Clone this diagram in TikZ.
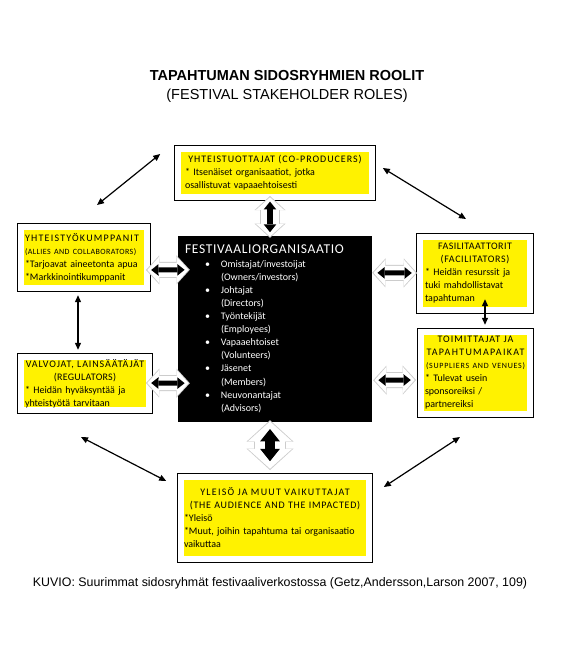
\documentclass[tikz,border=0pt]{standalone}
\usepackage{fontspec}
\setmainfont{Liberation Sans}
\newfontfamily\boxfont{Carlito}
\usetikzlibrary{arrows.meta,calc}

\newcommand{\orgitem}[2]{\hspace*{20pt}\makebox[16pt][l]{\textbullet}#1\par\hspace*{36pt}#2\par}
\newcommand{\hd}[2]{\mbox{\addfontfeature{LetterSpace=#1}#2}}

% white block arrow with a black arrow inside
\newcommand{\blockarrow}[4]{%
  \pgfmathsetlengthmacro{\bshw}{#3}\pgfmathsetlengthmacro{\bhdw}{#4}%
  \pgfmathsetlengthmacro{\bshwo}{#3+2}\pgfmathsetlengthmacro{\bhdwo}{#4+3}%
  \pgfmathsetlengthmacro{\bhdl}{0.45*#4}\pgfmathsetlengthmacro{\bhdlo}{0.45*#4+1.6}%
  \pgfmathsetlengthmacro{\bcsh}{0.35*#3}\pgfmathsetlengthmacro{\bchw}{0.45*#4}%
  \pgfmathsetlengthmacro{\bchl}{0.28*#4}\pgfmathsetlengthmacro{\bcsht}{0.2*#4}%
  \draw[gray!40, line width=\bshwo,
    {Triangle[width=\bhdwo,length=\bhdlo,line width=0pt]}-{Triangle[width=\bhdwo,length=\bhdlo,line width=0pt]}] #1 -- #2;
  \draw[white, line width=\bshw, shorten <=1.3pt, shorten >=1.3pt,
    {Triangle[width=\bhdw,length=\bhdl,line width=0pt]}-{Triangle[width=\bhdw,length=\bhdl,line width=0pt]}] #1 -- #2;
  \draw[black, line width=\bcsh, shorten <=\bcsht, shorten >=\bcsht,
    {Triangle[width=\bchw,length=\bchl,line width=0pt]}-{Triangle[width=\bchw,length=\bchl,line width=0pt]}] #1 -- #2;
}

\tikzset{
  role/.style={font=\boxfont\fontsize{10}{13}\selectfont, fill=yellow, draw=white, line width=6pt,
    preaction={draw=black, line width=7.6pt}, inner ysep=2pt},
  org/.style={font=\boxfont\fontsize{10}{13.1}\selectfont, fill=black, draw=black, text=white,
    inner xsep=7pt, inner ysep=0pt},
  link/.style={line width=1.2pt, {Triangle[length=7pt,width=6pt]}-{Triangle[length=7pt,width=6pt]}},
}

\begin{document}
\begin{tikzpicture}[x=1pt,y=-1pt]
  \fill[white] (0,0) rectangle (580,664);
  \useasboundingbox (0,0) rectangle (580,664);

  \node[font=\bfseries\fontsize{14.5}{16}\selectfont] (title) at (287,76) {TAPAHTUMAN SIDOSRYHMIEN ROOLIT};
  \node[font=\fontsize{14.5}{16}\selectfont] (subtitle) at (287,96) {(FESTIVAL STAKEHOLDER ROLES)};

  \node[role, text width=180pt, inner xsep=7pt, minimum height=48.4pt] (co) at (275,173)
    {{\centering \hd{9.5}{YHTEISTUOTTAJAT (CO-PRODUCERS)}\par}\raggedright
     * Itsenäiset organisaatiot, jotka\\osallistuvat vapaaehtoisesti\par};
  \node[role, text width=118pt, inner xsep=4.2pt, minimum height=61.4pt] (al) at (84,257.5)
    {\raggedright \hd{12.3}{YHTEISTYÖKUMPPANIT}\\{\fontsize{8}{13}\selectfont\hd{5}{(ALLIES AND COLLABORATORS)}}\\{}*Tarjoavat aineetonta apua\\{}*Markkinointikumppanit\par\vspace*{4pt}};
  \node[role, text width=120pt, inner xsep=4.2pt, minimum height=53.4pt] (reg) at (85,383.5)
    {{\centering \hd{9}{VALVOJAT, LAINSÄÄTÄJÄT}\\\hd{2.7}{(REGULATORS)}\par}\raggedright
     * Heidän hyväksyntää ja\\yhteistyötä tarvitaan\par\vspace*{-6pt}};
  \node[role, text width=100pt, inner xsep=5.2pt, minimum height=73.4pt] (fa) at (475,273.5)
    {{\centering \hd{4.5}{FASILITAATTORIT}\\\hd{6.3}{(FACILITATORS)}\par}\raggedright
     * Heidän resurssit ja\\tuki mahdollistavat\\tapahtuman\par};
  \node[role, text width=101pt, inner xsep=4.2pt, minimum height=82.4pt] (su) at (475.5,373)
    {{\centering \hd{10}{TOIMITTAJAT JA}\\\hd{13}{TAPAHTUMAPAIKAT}\\{\fontsize{8}{13}\selectfont\hd{9}{(SUPPLIERS AND VENUES)}}\par}\raggedright
     * Tulevat usein\\sponsoreiksi /\\partnereiksi\par};
  \node[role, text width=182pt, inner xsep=3pt, minimum height=82.4pt] (au) at (275,518)
    {{\centering \hd{12.5}{YLEISÖ JA MUUT VAIKUTTAJAT}\\\hd{7.2}{(THE AUDIENCE AND THE IMPACTED)}\par}\raggedright
     *Yleisö\\{}*Muut, joihin tapahtuma tai organisaatio\\vaikuttaa\par\vspace*{21pt}};

  \node[org, text width=179pt, minimum height=185pt] (org) at (274.5,328.5)
    {{\fontsize{13.5}{16}\selectfont \hd{5}{FESTIVAALIORGANISAATIO}\par}\vspace{1pt}
     \orgitem{Omistajat/investoijat}{(Owners/investors)}
     \orgitem{Johtajat}{(Directors)}
     \orgitem{Työntekijät}{(Employees)}
     \orgitem{Vapaaehtoiset}{(Volunteers)}
     \orgitem{Jäsenet}{(Members)}
     \orgitem{Neuvonantajat}{(Advisors)}};

  \node[font=\fontsize{12.4}{14}\selectfont] (caption) at (280,583)
    {KUVIO: Suurimmat sidosryhmät festivaaliverkostossa (Getz,Andersson,Larson 2007, 109)};

  \blockarrow{([shift={(-5,-4.2)}]co.south)}{([shift={(-4.5,2)}]org.north)}{18}{28}
  \blockarrow{([shift={(-4.5,-1)}]org.south)}{([shift={(-5,-3.8)}]au.north)}{30}{44}
  \blockarrow{([shift={(-4.2,12.5)}]al.east)}{([shift={(12,34)}]org.north west)}{14}{26}
  \blockarrow{([shift={(-6.2,-0.5)}]reg.east)}{([shift={(12,-38)}]org.south west)}{14}{26}
  \blockarrow{([shift={(1,37)}]org.north east)}{([shift={(0.2,-0.5)}]fa.west)}{14}{26}
  \blockarrow{([shift={(2,-41)}]org.south east)}{([shift={(-1.8,7)}]su.west)}{14}{26}

  \draw[link] ([shift={(-6,4)}]al.south) -- ([shift={(-7,-4)}]reg.north);
  \draw[link] ([shift={(10,-14)}]fa.south) -- ([shift={(9.5,-4)}]su.north);
  \draw[link] ([shift={(-14.8,-19)}]co.west) -- ([shift={(13,-18.8)}]al.north);
  \draw[link] ([shift={(7.8,-5)}]co.east) -- ([shift={(-9,-14.8)}]fa.north);
  \draw[link] ([shift={(-4,23.8)}]reg.south) -- ([shift={(-11.8,-37)}]au.west);
  \draw[link] ([shift={(-15.5,19.8)}]su.south) -- ([shift={(11.8,-31)}]au.east);
\end{tikzpicture}
\end{document}
